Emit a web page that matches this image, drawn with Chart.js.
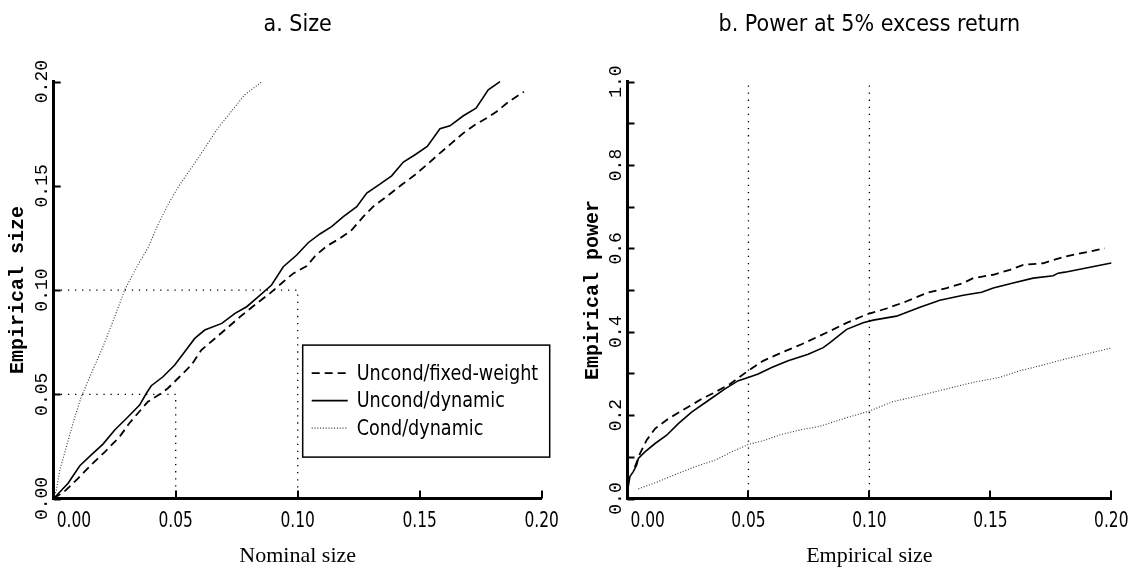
<!DOCTYPE html>
<html>
<head>
<meta charset="utf-8">
<script src="https://cdn.jsdelivr.net/npm/chart.js@4.4.1/dist/chart.umd.min.js"></script>
<style>
  html, body { margin: 0; padding: 0; background: #fff; }
  #wrap { position: relative; width: 1135px; height: 569px; }
  #size { position: absolute; left: 0; top: 0; }
  #power { position: absolute; left: 575px; top: 0; }
</style>
</head>
<body>
<div id="wrap">
  <canvas id="size" width="575" height="569"></canvas>
  <canvas id="power" width="560" height="569"></canvas>
</div>
<script>
const seriesLabels = ['Uncond/fixed-weight', 'Uncond/dynamic', 'Cond/dynamic']

// panel a: empirical vs nominal size, [nominal, empirical]
const sizeFixed = [[0, 0], [0.005, 0.004], [0.010, 0.0097], [0.016, 0.0169], [0.021, 0.0224], [0.027, 0.0296],
  [0.031, 0.0361], [0.0345, 0.0409], [0.0386, 0.0464], [0.0441, 0.0505], [0.0468, 0.0529], [0.0516, 0.0584],
  [0.0564, 0.064], [0.0605, 0.0712], [0.0709, 0.0816], [0.0764, 0.0872], [0.0832, 0.0936], [0.0886, 0.0984],
  [0.0941, 0.104], [0.0982, 0.108], [0.1037, 0.1115], [0.1071, 0.1163], [0.1119, 0.1211], [0.1173, 0.1248],
  [0.1221, 0.1288], [0.1269, 0.1352], [0.131, 0.1401], [0.1365, 0.1449], [0.1426, 0.1505], [0.1481, 0.1553],
  [0.1529, 0.1601], [0.1583, 0.1657], [0.1631, 0.1705], [0.1679, 0.1753], [0.1727, 0.1793], [0.1775, 0.1825],
  [0.1816, 0.1857], [0.1863, 0.1902], [0.1927, 0.1951]]
const sizeDynamic = [[0, 0], [0.0059, 0.0073], [0.0107, 0.0157], [0.0154, 0.0209], [0.0202, 0.0261], [0.025, 0.0329],
  [0.0305, 0.0392], [0.0352, 0.0448], [0.038, 0.0505], [0.04, 0.0541], [0.0448, 0.0584], [0.0496, 0.064],
  [0.0537, 0.0704], [0.0578, 0.0768], [0.0619, 0.0808], [0.0689, 0.084], [0.0743, 0.0888], [0.0791, 0.092],
  [0.0839, 0.0968], [0.0893, 0.1024], [0.0941, 0.1112], [0.0996, 0.1168], [0.1043, 0.1227], [0.1091, 0.1269],
  [0.1139, 0.1304], [0.1187, 0.1352], [0.1242, 0.14], [0.1283, 0.1465], [0.1337, 0.1508], [0.1385, 0.1548],
  [0.1433, 0.1614], [0.1481, 0.1649], [0.1531, 0.1689], [0.1583, 0.1774], [0.1624, 0.1788], [0.1679, 0.1836],
  [0.1731, 0.1873], [0.1781, 0.1961], [0.1829, 0.2]]
const sizeCond = [[0, 0], [0.0011, 0.0041], [0.0025, 0.0137], [0.0052, 0.0248], [0.0079, 0.0361], [0.0113, 0.0488],
  [0.0154, 0.06], [0.0202, 0.0728], [0.025, 0.0872], [0.0291, 0.1], [0.0345, 0.1121], [0.0386, 0.1201],
  [0.0427, 0.1313], [0.0468, 0.1409], [0.0516, 0.1505], [0.0564, 0.1585], [0.0619, 0.1681], [0.0673, 0.1777],
  [0.0728, 0.1857], [0.0783, 0.1937], [0.0854, 0.2]]
const sizeGuide05 = [[0, 0.05], [0.05, 0.05], [0.05, 0]]
const sizeGuide10 = [[0, 0.1], [0.1, 0.1], [0.1, 0]]
const sizeXTicks = [0, 0.05, 0.10, 0.15, 0.20]
const sizeXLabels = ['0.00', '0.05', '0.10', '0.15', '0.20']
const sizeYTicks = [0, 0.05, 0.10, 0.15, 0.20]
const sizeYLabels = ['0.00', '0.05', '0.10', '0.15', '0.20']

// panel b: power vs empirical size, [size, power]
const powerFixed = [[0.003, 0.075], [0.0052, 0.1081], [0.0079, 0.1398], [0.0114, 0.1676], [0.0169, 0.1914],
  [0.0238, 0.2152], [0.0307, 0.239], [0.0362, 0.2548], [0.0424, 0.2748], [0.0499, 0.3064], [0.0561, 0.3302],
  [0.0637, 0.35], [0.072, 0.37], [0.0837, 0.4017], [0.0906, 0.4214], [0.0988, 0.4414], [0.1071, 0.4557],
  [0.1154, 0.4731], [0.1236, 0.4929], [0.1319, 0.5048], [0.1388, 0.5167], [0.1429, 0.5286], [0.1512, 0.5367],
  [0.1581, 0.5486], [0.1636, 0.5605], [0.1718, 0.5643], [0.1808, 0.5802], [0.1973, 0.6]]
const powerDynamic = [[0.0003, 0.028], [0.001, 0.0524], [0.0024, 0.0643], [0.0038, 0.0802], [0.0045, 0.0962],
  [0.0072, 0.1119], [0.0114, 0.1319], [0.0162, 0.1517], [0.021, 0.1795], [0.0265, 0.2071], [0.0334, 0.235],
  [0.0403, 0.2629], [0.0458, 0.2826], [0.0499, 0.2905], [0.054, 0.2986], [0.0596, 0.3143], [0.0664, 0.3302],
  [0.0747, 0.3462], [0.0809, 0.3619], [0.0837, 0.3738], [0.0906, 0.4057], [0.0974, 0.4214], [0.1016, 0.4279],
  [0.1112, 0.4374], [0.1209, 0.4588], [0.1291, 0.4755], [0.1388, 0.4874], [0.1464, 0.4945], [0.1512, 0.5048],
  [0.1594, 0.5167], [0.1677, 0.5286], [0.176, 0.5343], [0.178, 0.5405], [0.1808, 0.5429], [0.2, 0.565]]
const powerCond = [[0.0045, 0.0231], [0.0127, 0.0405], [0.021, 0.0605], [0.0279, 0.0762], [0.0362, 0.0921],
  [0.0431, 0.1119], [0.0499, 0.1295], [0.0568, 0.1398], [0.0637, 0.154], [0.072, 0.1652], [0.0795, 0.1731],
  [0.0892, 0.1914], [0.0999, 0.2095], [0.1098, 0.2326], [0.1209, 0.2469], [0.1319, 0.2629], [0.1429, 0.2786],
  [0.1539, 0.2905], [0.1622, 0.3064], [0.1705, 0.3183], [0.1808, 0.3343], [0.2, 0.361]]
const powerGuide05 = [[0.05, 0], [0.05, 1]]
const powerGuide10 = [[0.1, 0], [0.1, 1]]
const powerXTicks = [0, 0.05, 0.10, 0.15, 0.20]
const powerXLabels = ['0.00', '0.05', '0.10', '0.15', '0.20']
const powerYTicks = [0, 0.1, 0.2, 0.3, 0.4, 0.5, 0.6, 0.7, 0.8, 0.9, 1.0]
const powerYLabels = ['0.0', '', '0.2', '', '0.4', '', '0.6', '', '0.8', '', '1.0']

const narrow = '"Liberation Sans Narrow", "DejaVu Sans Condensed", sans-serif'
const mono = '"Liberation Mono", "DejaVu Sans Mono", monospace'
const serif = '"Liberation Serif", "DejaVu Serif", serif'

const toPoints = arr => arr.map(p => ({ x: p[0], y: p[1] }))

const styles = [
  { borderColor: '#000', borderWidth: 1.8, borderDash: [8, 5] },
  { borderColor: '#000', borderWidth: 1.6, borderDash: [] },
  { borderColor: '#333', borderWidth: 1.1, borderDash: [1, 1.8] }
]

function series(i, arr) {
  return Object.assign({ label: seriesLabels[i], data: toPoints(arr), pointRadius: 0, tension: 0, fill: false, clip: false }, styles[i])
}

function guide(arr) {
  return { label: '', data: toPoints(arr), borderColor: '#000', borderWidth: 1.3, borderDash: [1.3, 5.8],
    pointRadius: 0, tension: 0, fill: false, clip: false }
}

// squeezed text, the original uses a very narrow face
function narrowText(ctx, text, x, y, align, sx) {
  ctx.save()
  ctx.translate(x, y)
  ctx.scale(sx, 1)
  ctx.textAlign = align
  ctx.fillText(text, 0, 0)
  ctx.restore()
}

// inward tick marks and hand placed tick labels
const axisDecor = {
  id: 'axisDecor',
  afterDraw(chart, args, opts) {
    const ctx = chart.ctx
    const x = chart.scales.x
    const y = chart.scales.y
    ctx.save()
    ctx.strokeStyle = '#000'
    ctx.lineWidth = 2
    ctx.setLineDash([])
    y.ticks.forEach(t => {
      const py = Math.round(y.getPixelForValue(t.value)) + 0.5
      ctx.beginPath(); ctx.moveTo(x.left, py); ctx.lineTo(x.left + 7, py); ctx.stroke()
    })
    x.ticks.forEach(t => {
      if (t.value === 0) return
      const px = Math.round(x.getPixelForValue(t.value))
      ctx.beginPath(); ctx.moveTo(px, y.bottom); ctx.lineTo(px, y.bottom - 8); ctx.stroke()
    })

    ctx.fillStyle = '#000'
    ctx.font = '22px ' + narrow
    ctx.textBaseline = 'alphabetic'
    x.ticks.forEach((t, i) => {
      const px = x.getPixelForValue(t.value)
      if (t.value === 0) narrowText(ctx, opts.xLabels[i], px + 3, y.bottom + 28, 'left', 0.78)
      else narrowText(ctx, opts.xLabels[i], px, y.bottom + 28, 'center', 0.78)
    })

    ctx.font = '18px ' + mono
    y.ticks.forEach((t, i) => {
      const label = opts.yLabels[i]
      if (!label) return
      ctx.save()
      ctx.translate(x.left - 11, y.getPixelForValue(t.value))
      ctx.rotate(-Math.PI / 2)
      ctx.textAlign = 'center'
      ctx.textBaseline = 'middle'
      ctx.fillText(label, 0, 0)
      ctx.restore()
    })
    ctx.restore()
  }
}

const boxLegend = {
  id: 'boxLegend',
  afterDraw(chart, args, opts) {
    if (!opts.display) return
    const { ctx, chartArea } = chart
    const left = chartArea.left + opts.dx
    const top = chartArea.top + opts.dy
    ctx.save()
    ctx.fillStyle = '#fff'
    ctx.fillRect(left, top, opts.width, opts.height)
    ctx.strokeStyle = '#000'
    ctx.lineWidth = 1.5
    ctx.setLineDash([])
    ctx.strokeRect(left, top, opts.width, opts.height)
    ctx.font = '22px ' + narrow
    ctx.textBaseline = 'middle'
    chart.data.datasets.filter(d => d.label).forEach((ds, i) => {
      const yy = top + opts.firstRow + i * opts.rowGap
      ctx.strokeStyle = ds.borderColor
      ctx.lineWidth = ds.borderWidth
      ctx.setLineDash(ds.borderDash)
      ctx.beginPath(); ctx.moveTo(left + 9, yy); ctx.lineTo(left + 45, yy); ctx.stroke()
      ctx.fillStyle = '#000'
      narrowText(ctx, ds.label, left + 54, yy + 1, 'left', 0.89)
    })
    ctx.restore()
  }
}

function makeScales(xTicks, yTicks, yMax, yWidth, xTitle, yTitle) {
  return {
    x: {
      type: 'linear', min: 0, max: 0.2,
      afterBuildTicks: s => { s.ticks = xTicks.map(v => ({ value: v })) },
      afterFit: s => { s.height = 70.5 },
      grid: { display: false },
      border: { display: true, width: 3, color: '#000' },
      ticks: { display: false },
      title: { display: true, text: xTitle, color: '#000', font: { family: serif, size: 22 }, padding: { top: 0, bottom: 0 } }
    },
    y: {
      type: 'linear', min: 0, max: yMax,
      afterBuildTicks: s => { s.ticks = yTicks.map(v => ({ value: v })) },
      afterFit: s => { s.width = yWidth },
      grid: { display: false },
      border: { display: true, width: 3, color: '#000' },
      ticks: { display: false },
      title: { display: true, text: yTitle, color: '#000', font: { family: mono, size: 20, weight: 'bold' }, padding: { top: 6, bottom: 0 } }
    }
  }
}

function titleOpts(text) {
  return { display: true, text: text, fullSize: false, color: '#000',
    font: { family: narrow, size: 23, weight: 'normal' }, padding: { top: 11, bottom: 43 } }
}

new Chart(document.getElementById('size'), {
  type: 'line',
  data: {
    datasets: [guide(sizeGuide05), guide(sizeGuide10), series(0, sizeFixed), series(1, sizeDynamic), series(2, sizeCond)]
  },
  options: {
    responsive: false,
    animation: false,
    layout: { padding: { left: 0, right: 33.3, top: 0, bottom: 0 } },
    plugins: {
      legend: { display: false },
      tooltip: { enabled: false },
      title: titleOpts('a. Size'),
      axisDecor: { xLabels: sizeXLabels, yLabels: sizeYLabels },
      boxLegend: { display: true, dx: 249, dy: 263.5, width: 247, height: 112, firstRow: 28, rowGap: 27.5 }
    },
    scales: makeScales(sizeXTicks, sizeYTicks, 0.2, 53.7, 'Nominal size', 'Empirical size')
  },
  plugins: [axisDecor, boxLegend]
})

new Chart(document.getElementById('power'), {
  type: 'line',
  data: {
    datasets: [guide(powerGuide05), guide(powerGuide10), series(0, powerFixed), series(1, powerDynamic), series(2, powerCond)]
  },
  options: {
    responsive: false,
    animation: false,
    layout: { padding: { left: 0, right: 23.7, top: 0, bottom: 0 } },
    plugins: {
      legend: { display: false },
      tooltip: { enabled: false },
      title: titleOpts('b. Power at 5% excess return'),
      axisDecor: { xLabels: powerXLabels, yLabels: powerYLabels },
      boxLegend: { display: false }
    },
    scales: makeScales(powerXTicks, powerYTicks, 1.0, 52.5, 'Empirical size', 'Empirical power')
  },
  plugins: [axisDecor, boxLegend]
})
</script>
</body>
</html>
